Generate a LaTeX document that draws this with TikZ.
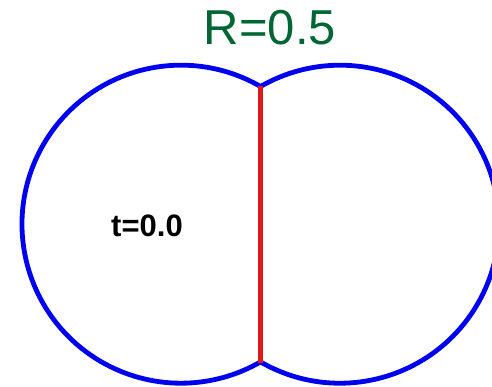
\documentclass[tikz,border=0pt]{standalone}
\usepackage{fontspec}
\setmainfont{Liberation Sans}
\usetikzlibrary{calc}
\definecolor{myblue}{RGB}{0,0,240}
\definecolor{myred}{RGB}{225,25,25}
\definecolor{mygreen}{RGB}{0,102,51}
\tikzset{
  outline/.style={draw=myblue, line width=4.8pt},
  chord/.style={draw=myred, line width=4.5pt},
  title/.style={text=mygreen, font=\fontsize{49}{50}\selectfont},
  label/.style={text=black, font=\bfseries\fontsize{31}{32}\selectfont}
}

\begin{document}
\begin{tikzpicture}[x=1pt, y=-1pt]
  \useasboundingbox (0,0) rectangle (492,387);
  \clip (0,0) rectangle (492,387);
  % Cusps where the two circles meet
  \coordinate (top) at (260.5,86.5);
  \coordinate (bot) at (260.5,362.5);
  % Outer boundary of the two discs
  \draw[outline] (top) arc[start angle=-60, end angle=-300, radius=159]
                 arc[start angle=120, end angle=-120, radius=159] -- cycle;
  % Shared chord
  \draw[chord] (top) -- (bot);
  \node[title] (rad) at (270,27.5) {R=0.5};
  \node[label] (time) at (147,226) {t=0.0};
\end{tikzpicture}
\end{document}
